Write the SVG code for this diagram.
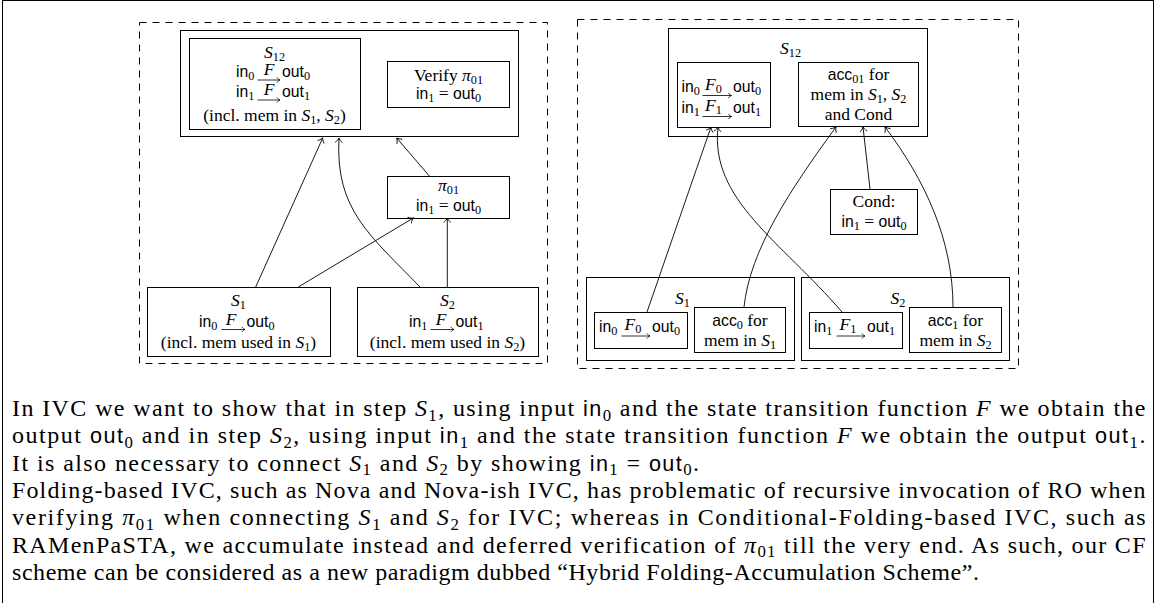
<svg xmlns="http://www.w3.org/2000/svg" width="1156" height="603" viewBox="0 0 1156 603">
<style>
.bx{fill:none;stroke:#000;stroke-width:1}
.dsh{fill:none;stroke:#000;stroke-width:1;stroke-dasharray:7 6}
.c{fill:none;stroke:#000;stroke-width:0.9;marker-end:url(#ah)}
.xa{fill:none;stroke:#000;stroke-width:0.8;marker-end:url(#sh)}
text{font-family:"Liberation Serif",serif;fill:#000}
.t{font-size:17.5px}
.body{font-size:24px}
.m{text-anchor:middle}
.i{font-style:italic}
.sf{font-family:"Liberation Sans",sans-serif;font-size:0.9em}
.s{font-size:0.7em}
</style>
<defs>
<marker id="ah" markerUnits="userSpaceOnUse" markerWidth="12" markerHeight="12" viewBox="-6 -6 12 12" refX="0" refY="0" orient="auto" overflow="visible"><path d="M-4.5,-3.6 C-3,-1.6 -1.2,-0.5 0,0 C-1.2,0.5 -3,1.6 -4.5,3.6" fill="none" stroke="#000" stroke-width="0.9"/></marker>
<marker id="sh" markerUnits="userSpaceOnUse" markerWidth="8" markerHeight="8" viewBox="-4 -4 8 8" refX="0" refY="0" orient="auto" overflow="visible"><path d="M-3.2,-2.6 C-2.2,-1.1 -0.9,-0.4 0,0 C-0.9,0.4 -2.2,1.1 -3.2,2.6" fill="none" stroke="#000" stroke-width="0.8"/></marker>
</defs>

<rect x="2.5" y="0.5" width="1151" height="620" fill="none" stroke="#000" stroke-width="1"/>

<!-- panels -->
<rect class="dsh" x="139.5" y="22.5" width="408" height="341"/>
<rect class="dsh" x="577.5" y="19.5" width="441" height="349"/>

<!-- LEFT PANEL -->
<g id="L_S12">
<rect class="bx" x="180.5" y="30.5" width="338" height="106"/>
<rect class="bx" x="189.5" y="38.5" width="171" height="91"/>
<text class="t m" x="274.5" y="58"><tspan class="i">S</tspan><tspan class="s" dy="3">12</tspan></text>
<text class="t" x="236" y="76.5"><tspan class="sf">in</tspan><tspan class="s" dy="3">0</tspan></text>
<text class="t i m" x="269" y="75">F</text>
<path class="xa" d="M257.5,80 H280"/>
<text class="t" x="282" y="76.5"><tspan class="sf">out</tspan><tspan class="s" dy="3">0</tspan></text>
<text class="t" x="236" y="96.5"><tspan class="sf">in</tspan><tspan class="s" dy="3">1</tspan></text>
<text class="t i m" x="269" y="95">F</text>
<path class="xa" d="M257.5,100 H280"/>
<text class="t" x="282" y="96.5"><tspan class="sf">out</tspan><tspan class="s" dy="3">1</tspan></text>
<text class="t m" x="274.5" y="120.5">(incl. mem in <tspan class="i">S</tspan><tspan class="s" dy="3">1</tspan><tspan dy="-3">, </tspan><tspan class="i">S</tspan><tspan class="s" dy="3">2</tspan><tspan dy="-3">)</tspan></text>
</g>
<g id="L_verify">
<rect class="bx" x="387.5" y="61.5" width="122" height="46"/>
<text class="t m" x="448.5" y="81">Verify <tspan class="i">π</tspan><tspan class="s" dy="3">01</tspan></text>
<text class="t m" x="448.5" y="99"><tspan class="sf">in</tspan><tspan class="s" dy="3">1</tspan><tspan dy="-3"> = </tspan><tspan class="sf">out</tspan><tspan class="s" dy="3">0</tspan></text>
</g>
<g id="L_pi">
<rect class="bx" x="387.5" y="176.5" width="122" height="42"/>
<text class="t m" x="448.5" y="191"><tspan class="i">π</tspan><tspan class="s" dy="3">01</tspan></text>
<text class="t m" x="448.5" y="211"><tspan class="sf">in</tspan><tspan class="s" dy="3">1</tspan><tspan dy="-3"> = </tspan><tspan class="sf">out</tspan><tspan class="s" dy="3">0</tspan></text>
</g>
<g id="L_S1">
<rect class="bx" x="147.5" y="287.5" width="183" height="69"/>
<text class="t m" x="238.5" y="305.5"><tspan class="i">S</tspan><tspan class="s" dy="3">1</tspan></text>
<text class="t" x="199" y="326.5"><tspan class="sf">in</tspan><tspan class="s" dy="3">0</tspan></text>
<text class="t i m" x="231" y="325">F</text>
<path class="xa" d="M221.5,329.5 H245"/>
<text class="t" x="246.5" y="326.5"><tspan class="sf">out</tspan><tspan class="s" dy="3">0</tspan></text>
<text class="t m" x="238.5" y="348">(incl. mem used in <tspan class="i">S</tspan><tspan class="s" dy="3">1</tspan><tspan dy="-3">)</tspan></text>
</g>
<g id="L_S2">
<rect class="bx" x="357.5" y="287.5" width="181" height="69"/>
<text class="t m" x="447.5" y="305.5"><tspan class="i">S</tspan><tspan class="s" dy="3">2</tspan></text>
<text class="t" x="409" y="326.5"><tspan class="sf">in</tspan><tspan class="s" dy="3">1</tspan></text>
<text class="t i m" x="441" y="325">F</text>
<path class="xa" d="M430.5,329.5 H454"/>
<text class="t" x="455.5" y="326.5"><tspan class="sf">out</tspan><tspan class="s" dy="3">1</tspan></text>
<text class="t m" x="447.5" y="348">(incl. mem used in <tspan class="i">S</tspan><tspan class="s" dy="3">2</tspan><tspan dy="-3">)</tspan></text>
</g>

<!-- RIGHT PANEL -->
<g id="R_S12">
<rect class="bx" x="668.5" y="28.5" width="259" height="108"/>
<text class="t m" x="790.5" y="54"><tspan class="i">S</tspan><tspan class="s" dy="3">12</tspan></text>
</g>
<g id="R_F">
<rect class="bx" x="677.5" y="62.5" width="93" height="65"/>
<text class="t" x="681.5" y="92"><tspan class="sf">in</tspan><tspan class="s" dy="3">0</tspan></text>
<text class="t" x="705" y="90"><tspan class="i">F</tspan><tspan class="s" dy="3">0</tspan></text>
<path class="xa" d="M702.5,95.5 H731.5"/>
<text class="t" x="733" y="92"><tspan class="sf">out</tspan><tspan class="s" dy="3">0</tspan></text>
<text class="t" x="681.5" y="112.5"><tspan class="sf">in</tspan><tspan class="s" dy="3">1</tspan></text>
<text class="t" x="705" y="110.5"><tspan class="i">F</tspan><tspan class="s" dy="3">1</tspan></text>
<path class="xa" d="M702.5,116.5 H731.5"/>
<text class="t" x="733" y="112.5"><tspan class="sf">out</tspan><tspan class="s" dy="3">1</tspan></text>
</g>
<g id="R_acc01">
<rect class="bx" x="798.5" y="62.5" width="120" height="64"/>
<text class="t m" x="858.5" y="80"><tspan class="sf">acc</tspan><tspan class="s" dy="3">01</tspan><tspan dy="-3"> for</tspan></text>
<text class="t m" x="858.5" y="100">mem in <tspan class="i">S</tspan><tspan class="s" dy="3">1</tspan><tspan dy="-3">, </tspan><tspan class="i">S</tspan><tspan class="s" dy="3">2</tspan></text>
<text class="t m" x="858.5" y="120">and Cond</text>
</g>
<g id="R_cond">
<rect class="bx" x="830.5" y="189.5" width="87" height="45"/>
<text class="t m" x="874" y="207">Cond:</text>
<text class="t m" x="874" y="226.5"><tspan class="sf">in</tspan><tspan class="s" dy="3">1</tspan><tspan dy="-3"> = </tspan><tspan class="sf">out</tspan><tspan class="s" dy="3">0</tspan></text>
</g>
<g id="R_S1">
<rect class="bx" x="586.5" y="277.5" width="208" height="83"/>
<text class="t m" x="682.5" y="303.5"><tspan class="i">S</tspan><tspan class="s" dy="3">1</tspan></text>
</g>
<g id="R_S1_F">
<rect class="bx" x="594.5" y="312.5" width="93" height="36"/>
<text class="t" x="599" y="331.5"><tspan class="sf">in</tspan><tspan class="s" dy="3">0</tspan></text>
<text class="t" x="624.5" y="329.5"><tspan class="i">F</tspan><tspan class="s" dy="3">0</tspan></text>
<path class="xa" d="M621.5,336 H650"/>
<text class="t" x="652" y="331.5"><tspan class="sf">out</tspan><tspan class="s" dy="3">0</tspan></text>
</g>
<g id="R_S1_acc">
<rect class="bx" x="694.5" y="307.5" width="91" height="45"/>
<text class="t m" x="740" y="325.5"><tspan class="sf">acc</tspan><tspan class="s" dy="3">0</tspan><tspan dy="-3"> for</tspan></text>
<text class="t m" x="740" y="345.5">mem in <tspan class="i">S</tspan><tspan class="s" dy="3">1</tspan></text>
</g>
<g id="R_S2">
<rect class="bx" x="801.5" y="277.5" width="208" height="83"/>
<text class="t m" x="898" y="303.5"><tspan class="i">S</tspan><tspan class="s" dy="3">2</tspan></text>
</g>
<g id="R_S2_F">
<rect class="bx" x="809.5" y="312.5" width="93" height="36"/>
<text class="t" x="814" y="331.5"><tspan class="sf">in</tspan><tspan class="s" dy="3">1</tspan></text>
<text class="t" x="839.5" y="329.5"><tspan class="i">F</tspan><tspan class="s" dy="3">1</tspan></text>
<path class="xa" d="M836.5,336 H865"/>
<text class="t" x="867" y="331.5"><tspan class="sf">out</tspan><tspan class="s" dy="3">1</tspan></text>
</g>
<g id="R_S2_acc">
<rect class="bx" x="909.5" y="307.5" width="92" height="45"/>
<text class="t m" x="955.5" y="325.5"><tspan class="sf">acc</tspan><tspan class="s" dy="3">1</tspan><tspan dy="-3"> for</tspan></text>
<text class="t m" x="955.5" y="345.5">mem in <tspan class="i">S</tspan><tspan class="s" dy="3">2</tspan></text>
</g>

<g id="connectors">
<path class="c" d="M255.7,287 L322.7,138"/>
<path class="c" d="M298.3,287 L413.3,218"/>
<path class="c" d="M420,287 C370,235 335,210 339,138"/>
<path class="c" d="M429.3,176 L396.7,138"/>
<path class="c" d="M447.3,287 L447.3,218"/>
<path class="c" d="M647,312 L711,127"/>
<path class="c" d="M744,307 C750,250 790,190 836,127"/>
<path class="c" d="M870,189 L863,127"/>
<path class="c" d="M953,307 C953,240 925,180 885,127"/>
<path class="c" d="M842,312 C780,240 710,200 718,127"/>
</g>

<g id="caption">
<text class="body" x="12" y="416" textLength="1133.5" lengthAdjust="spacing">In IVC we want to show that in step <tspan class="i">S</tspan><tspan class="s" dy="4.5">1</tspan><tspan dy="-4.5">, using input </tspan><tspan class="sf">in</tspan><tspan class="s" dy="4.5">0</tspan><tspan dy="-4.5"> and the state transition function </tspan><tspan class="i">F</tspan> we obtain the</text>
<text class="body" x="12" y="443.3" textLength="1133.5" lengthAdjust="spacing">output <tspan class="sf">out</tspan><tspan class="s" dy="4.5">0</tspan><tspan dy="-4.5"> and in step </tspan><tspan class="i">S</tspan><tspan class="s" dy="4.5">2</tspan><tspan dy="-4.5">, using input </tspan><tspan class="sf">in</tspan><tspan class="s" dy="4.5">1</tspan><tspan dy="-4.5"> and the state transition function </tspan><tspan class="i">F</tspan> we obtain the output <tspan class="sf">out</tspan><tspan class="s" dy="4.5">1</tspan><tspan dy="-4.5">.</tspan></text>
<text class="body" x="12" y="470.6" textLength="687" lengthAdjust="spacing">It is also necessary to connect <tspan class="i">S</tspan><tspan class="s" dy="4.5">1</tspan><tspan dy="-4.5"> and </tspan><tspan class="i">S</tspan><tspan class="s" dy="4.5">2</tspan><tspan dy="-4.5"> by showing </tspan><tspan class="sf">in</tspan><tspan class="s" dy="4.5">1</tspan><tspan dy="-4.5"> = </tspan><tspan class="sf">out</tspan><tspan class="s" dy="4.5">0</tspan><tspan dy="-4.5">.</tspan></text>
<text class="body" x="12" y="497.9" textLength="1133.5" lengthAdjust="spacing">Folding-based IVC, such as Nova and Nova-ish IVC, has problematic of recursive invocation of RO when</text>
<text class="body" x="12" y="525.2" textLength="1133.5" lengthAdjust="spacing">verifying <tspan class="i">π</tspan><tspan class="s" dy="4.5">01</tspan><tspan dy="-4.5"> when connecting </tspan><tspan class="i">S</tspan><tspan class="s" dy="4.5">1</tspan><tspan dy="-4.5"> and </tspan><tspan class="i">S</tspan><tspan class="s" dy="4.5">2</tspan><tspan dy="-4.5"> for IVC; whereas in Conditional-Folding-based IVC, such as</tspan></text>
<text class="body" x="12" y="552.5" textLength="1133.5" lengthAdjust="spacing">RAMenPaSTA, we accumulate instead and deferred verification of <tspan class="i">π</tspan><tspan class="s" dy="4.5">01</tspan><tspan dy="-4.5"> till the very end. As such, our CF</tspan></text>
<text class="body" x="12" y="579.8" textLength="967" lengthAdjust="spacing">scheme can be considered as a new paradigm dubbed “Hybrid Folding-Accumulation Scheme”.</text>
</g>
</svg>
